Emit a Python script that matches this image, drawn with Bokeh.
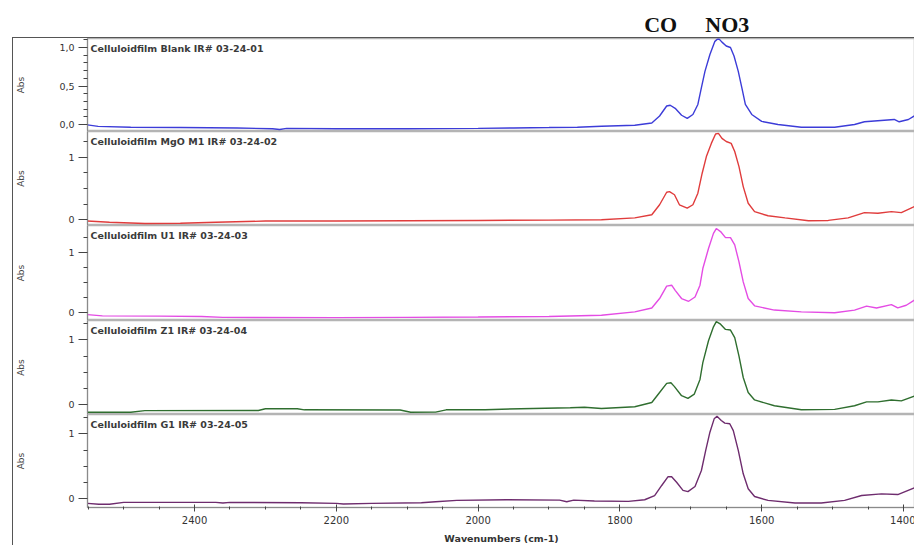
from bokeh.plotting import figure
from bokeh.layouts import column
from bokeh.models import Range1d, FixedTicker, ColumnDataSource
from bokeh.embed import file_html
from bokeh.resources import INLINE
from bokeh.core.properties import value

# ---------------- data ----------------
names = [
    "Celluloidfilm  Blank   IR# 03-24-01",
    "Celluloidfilm  MgO  M1   IR# 03-24-02",
    "Celluloidfilm   U1   IR# 03-24-03",
    "Celluloidfilm   Z1   IR# 03-24-04",
    "Celluloidfilm   G1   IR# 03-24-05",
]
colors = ["#3c3cd8", "#e03c3c", "#e44ce4", "#2f6e2f", "#6e2c6e"]

wn_blank = [2551, 2536, 2490, 2420, 2340, 2290, 2280, 2270, 2200, 2100, 2000, 1950, 1900, 1860,
            1826, 1779, 1755, 1744, 1734, 1729, 1722, 1713, 1705, 1697, 1690, 1685, 1680, 1673,
            1666, 1661, 1656, 1650, 1644, 1639, 1633, 1628, 1623, 1614, 1600, 1577, 1544, 1497,
            1469, 1455, 1427, 1413, 1406, 1393, 1383]
abs_blank = [-0.005, -0.025, -0.035, -0.04, -0.045, -0.055, -0.065, -0.05, -0.055, -0.055, -0.05,
             -0.045, -0.04, -0.035, -0.022, -0.01, 0.02, 0.11, 0.24, 0.25, 0.21, 0.12, 0.08, 0.13,
             0.26, 0.48, 0.69, 0.91, 1.08, 1.12, 1.07, 1.02, 1.00, 0.89, 0.69, 0.48, 0.26, 0.13,
             0.04, 0.0, -0.035, -0.035, 0.0, 0.035, 0.055, 0.065, 0.035, 0.065, 0.12]

wn_mgo = [2551, 2520, 2470, 2420, 2370, 2300, 2200, 2100, 2000, 1900, 1826, 1779, 1755, 1744,
          1734, 1730, 1723, 1716, 1705, 1697, 1690, 1684, 1678, 1671, 1665, 1661, 1656, 1650,
          1643, 1638, 1632, 1626, 1619, 1610, 1591, 1567, 1534, 1506, 1478, 1455, 1436, 1417,
          1403, 1383]
abs_mgo = [-0.02, -0.04, -0.06, -0.055, -0.04, -0.02, -0.02, -0.015, -0.01, -0.005, 0.0, 0.03,
           0.08, 0.24, 0.44, 0.45, 0.40, 0.24, 0.185, 0.24, 0.425, 0.74, 1.01, 1.22, 1.37, 1.38,
           1.30, 1.25, 1.22, 1.09, 0.85, 0.53, 0.265, 0.13, 0.065, 0.03, -0.015, -0.01, 0.03,
           0.115, 0.105, 0.13, 0.115, 0.22]

wn_u1 = [2551, 2530, 2450, 2390, 2360, 2200, 2100, 2000, 1900, 1826, 1779, 1755, 1744, 1734,
         1727, 1722, 1713, 1703, 1694, 1687, 1683, 1675, 1668, 1664, 1658, 1651, 1644, 1638,
         1632, 1626, 1619, 1610, 1582, 1544, 1497, 1469, 1452, 1438, 1417, 1408, 1396, 1383]
abs_u1 = [-0.03, -0.05, -0.055, -0.06, -0.075, -0.08, -0.075, -0.07, -0.06, -0.04, 0.015, 0.08,
          0.235, 0.44, 0.455, 0.37, 0.235, 0.19, 0.26, 0.455, 0.73, 1.06, 1.31, 1.39, 1.34,
          1.24, 1.24, 1.12, 0.84, 0.51, 0.235, 0.115, 0.045, 0.015, 0.0, 0.045, 0.11, 0.08,
          0.135, 0.08, 0.125, 0.22]

wn_z1 = [2551, 2490, 2470, 2310, 2300, 2255, 2245, 2110, 2095, 2060, 2045, 1990, 1940, 1870,
         1850, 1826, 1779, 1755, 1744, 1734, 1728, 1723, 1713, 1704, 1695, 1687, 1683, 1675,
         1668, 1664, 1658, 1651, 1644, 1638, 1632, 1626, 1619, 1610, 1582, 1544, 1497, 1469,
         1452, 1436, 1417, 1403, 1383]
abs_z1 = [-0.115, -0.115, -0.09, -0.088, -0.06, -0.06, -0.077, -0.08, -0.115, -0.112, -0.077,
          -0.075, -0.06, -0.045, -0.037, -0.057, -0.03, 0.035, 0.19, 0.33, 0.34, 0.28, 0.14,
          0.10, 0.165, 0.39, 0.65, 0.985, 1.20, 1.28, 1.24, 1.16, 1.15, 1.035, 0.75, 0.42, 0.19,
          0.075, -0.015, -0.075, -0.07, -0.015, 0.045, 0.045, 0.075, 0.06, 0.14]

wn_g1 = [2551, 2535, 2520, 2500, 2370, 2360, 2350, 2250, 2200, 2190, 2150, 2080, 2060, 2030,
         1960, 1885, 1875, 1865, 1836, 1788, 1765, 1751, 1741, 1732, 1727, 1720, 1711, 1704,
         1694, 1685, 1679, 1673, 1667, 1663, 1657, 1652, 1645, 1640, 1633, 1626, 1619, 1610,
         1591, 1553, 1516, 1483, 1459, 1431, 1408, 1384]
abs_g1 = [-0.07, -0.085, -0.085, -0.055, -0.055, -0.065, -0.055, -0.06, -0.07, -0.08, -0.07,
          -0.06, -0.045, -0.025, -0.015, -0.02, -0.045, -0.02, -0.035, -0.04, -0.015, 0.05,
          0.205, 0.34, 0.34, 0.255, 0.13, 0.11, 0.19, 0.435, 0.74, 1.025, 1.23, 1.27, 1.205,
          1.165, 1.155, 1.05, 0.745, 0.385, 0.155, 0.035, -0.025, -0.065, -0.065, -0.025, 0.05,
          0.075, 0.065, 0.17]

wn_series = [wn_blank, wn_mgo, wn_u1, wn_z1, wn_g1]
abs_series = [abs_blank, abs_mgo, abs_u1, abs_z1, abs_g1]

# y ranges of each panel
y_lo = [-0.091, -0.091, -0.127, -0.149, -0.134]
y_hi = [1.117, 1.41, 1.44, 1.297, 1.297]
frame_h = [93, 94, 95, 94, 93]

# tick labels
y_ticks_first = [0.0, 0.5, 1.0]
y_tick_labels_first = ["0,0", "0,5", "1,0"]
y_minor_first = [-0.1, 0.1, 0.2, 0.3, 0.4, 0.6, 0.7, 0.8, 0.9, 1.1]
y_ticks_other = [0, 1]
y_tick_labels_other = ["0", "1"]
y_minor_other = [-0.25, 0.25, 0.5, 0.75, 1.25]

x_ticks = [1400, 1600, 1800, 2000, 2200, 2400]
x_minor = [1400 + 50 * i for i in range(24)]
X_START, X_END = 2551, 1383

peak_labels = ["CO", "NO3"]
peak_pos = [1741, 1647]

# ---------------- figures ----------------
FONT = "DejaVu Sans"
xr = Range1d(X_START, X_END)

top = figure(frame_width=828, frame_height=37, x_range=xr, y_range=Range1d(0, 1),
             min_border_left=86, min_border_right=0, min_border_top=0, min_border_bottom=0,
             x_axis_location=None, y_axis_location=None, toolbar_location=None,
             output_backend="svg", outline_line_color=None)
top.grid.grid_line_color = None
top.text(x=peak_pos, y=[1] * len(peak_pos), text=peak_labels, y_offset=11,
         text_font=value("Liberation Serif"), text_font_style="bold",
         text_font_size="22px", text_color="#111111", text_align="center",
         text_baseline="top")

panel_figs = []
for i in range(5):
    last = (i == 4)
    p = figure(frame_width=828, frame_height=frame_h[i], x_range=xr,
               y_range=Range1d(y_lo[i], y_hi[i]),
               min_border_left=73, min_border_right=0, min_border_top=0,
               min_border_bottom=38 if last else 0,
               x_axis_location="below" if last else None,
               toolbar_location=None, output_backend="svg",
               outline_line_color="#b4b4b4", outline_line_width=1.5)
    p.grid.grid_line_color = None
    p.line(wn_series[i], abs_series[i], line_color=colors[i], line_width=1.4)

    src = ColumnDataSource(dict(x=[X_START], y=[y_hi[i]], t=[names[i]]))
    p.text(x="x", y="y", text="t", source=src, x_offset=3, y_offset=4,
           text_font=value(FONT), text_font_style="bold", text_font_size="9.5px",
           text_color="#3a3a3a", text_baseline="top", text_align="left")

    ya = p.yaxis[0]
    if i == 0:
        ya.ticker = FixedTicker(ticks=y_ticks_first, minor_ticks=y_minor_first)
        ya.major_label_overrides = dict(zip(y_ticks_first, y_tick_labels_first))
        ya.axis_label_standoff = 30
    else:
        ya.ticker = FixedTicker(ticks=y_ticks_other, minor_ticks=y_minor_other)
        ya.major_label_overrides = dict(zip(y_ticks_other, y_tick_labels_other))
        ya.axis_label_standoff = 39
    ya.axis_label = "Abs"
    ya.axis_label_text_font = FONT
    ya.axis_label_text_font_size = "9px"
    ya.axis_label_text_font_style = "normal"
    ya.axis_label_text_color = "#444444"
    ya.axis_line_color = "#8a8a8a"
    ya.major_tick_line_color = "#444444"
    ya.minor_tick_line_color = "#444444"
    ya.major_tick_in = 0
    ya.major_tick_out = 9
    ya.minor_tick_in = 0
    ya.minor_tick_out = 4
    ya.major_label_standoff = 4
    ya.major_label_text_font = FONT
    ya.major_label_text_font_size = "9.5px"
    ya.major_label_text_color = "#333333"

    if last:
        xa = p.xaxis[0]
        xa.ticker = FixedTicker(ticks=x_ticks, minor_ticks=x_minor)
        xa.axis_label = "Wavenumbers (cm-1)"
        xa.axis_label_text_font = FONT
        xa.axis_label_text_font_size = "9.5px"
        xa.axis_label_text_font_style = "bold"
        xa.axis_label_text_color = "#333333"
        xa.axis_label_standoff = 6
        xa.axis_line_color = "#8a8a8a"
        xa.major_tick_line_color = "#444444"
        xa.minor_tick_line_color = "#444444"
        xa.major_tick_in = 3
        xa.major_tick_out = 4
        xa.minor_tick_in = 1
        xa.minor_tick_out = 2
        xa.major_label_standoff = 4
        xa.major_label_text_font = FONT
        xa.major_label_text_font_size = "10px"
        xa.major_label_text_color = "#333333"
    panel_figs.append(p)

body = column(*panel_figs, spacing=0,
              styles={"margin-left": "12px", "border-left": "1px solid #555555",
                      "border-top": "1px solid #555555"})
layout = column(top, body, spacing=0)

open("out.html", "w").write(file_html(layout, INLINE))
